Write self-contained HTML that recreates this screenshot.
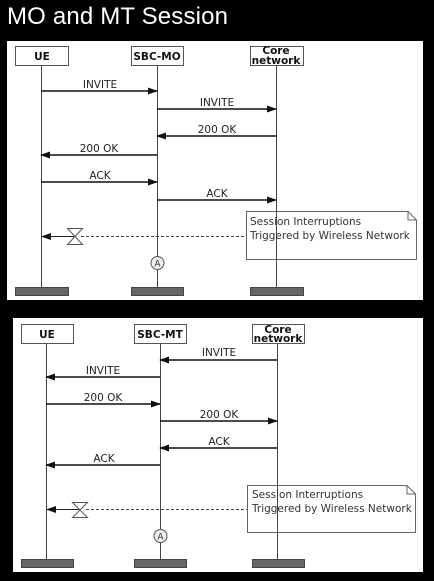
<!DOCTYPE html>
<html><head><style>
html,body{margin:0;padding:0;background:#000;width:434px;height:581px;overflow:hidden}
svg{display:block}
text{font-family:"DejaVu Sans","Liberation Sans",sans-serif}
</style></head><body>
<svg width="434" height="581" viewBox="0 0 434 581" xmlns="http://www.w3.org/2000/svg">
<defs>
<marker id="ah" markerWidth="10" markerHeight="8" refX="9" refY="3.5" orient="auto" markerUnits="userSpaceOnUse">
<path d="M0,0 L10,3.5 L0,7 z" fill="#111"/>
</marker>
</defs>
<text x="7" y="24" fill="#fff" font-size="24" textLength="221" style="font-family:'Liberation Sans',sans-serif">MO and MT Session</text>

<!-- Panel 1 -->
<rect x="7" y="41" width="416" height="259" fill="#fff"/>
<g stroke="#555" stroke-width="1" fill="#fff">
<rect x="15.5" y="46.5" width="53" height="19"/>
<rect x="131.5" y="46.5" width="52" height="19"/>
<rect x="250.5" y="46.5" width="53" height="19"/>
</g>
<g font-size="10.5" font-weight="bold" text-anchor="middle" fill="#111">
<text x="42" y="60">UE</text>
<text x="157" y="60">SBC-MO</text>
<text x="276" y="54">Core</text>
<text x="276" y="64">network</text>
</g>
<g stroke="#444" stroke-width="1">
<line x1="41.5" y1="66" x2="41.5" y2="288"/>
<line x1="157.5" y1="66" x2="157.5" y2="288"/>
<line x1="276.5" y1="66" x2="276.5" y2="288"/>
</g>
<path d="M246.5,211.5 H408 L416.5,220 V259.5 H246.5 Z M408,211.5 V220 H416.5" fill="#fff" stroke="#666"/>
<line x1="276.5" y1="211" x2="276.5" y2="260" stroke="#444"/>
<g fill="#666" stroke="#444">
<rect x="15.5" y="287.5" width="53" height="8"/>
<rect x="131.5" y="287.5" width="52" height="8"/>
<rect x="250.5" y="287.5" width="53" height="8"/>
</g>
<g stroke="#111" stroke-width="1.5" marker-end="url(#ah)">
<line x1="41" y1="91" x2="157" y2="91"/>
<line x1="157" y1="109" x2="276" y2="109"/>
<line x1="276" y1="136" x2="157" y2="136"/>
<line x1="157" y1="155" x2="41" y2="155"/>
<line x1="41" y1="182" x2="157" y2="182"/>
<line x1="157" y1="200" x2="276" y2="200"/>
</g>
<g font-size="10.5" text-anchor="middle" fill="#222">
<text x="100" y="88">INVITE</text>
<text x="217" y="106">INVITE</text>
<text x="217" y="133">200 OK</text>
<text x="99" y="152">200 OK</text>
<text x="100" y="179">ACK</text>
<text x="217" y="197">ACK</text>
</g>
<line x1="81" y1="236.5" x2="246" y2="236.5" stroke="#444" stroke-dasharray="3,2"/>
<line x1="74" y1="236.5" x2="42" y2="236.5" stroke="#222" stroke-width="1" marker-end="url(#ah)"/>
<path d="M67.5,228.5 H82.5 L67.5,244.5 H82.5 Z" fill="#fff" stroke="#555"/>
<g font-size="10.5" fill="#333">
<text x="250" y="225">Session Interruptions</text>
<text x="250" y="239">Triggered by Wireless Network</text>
</g>
<circle cx="157.5" cy="263" r="6.5" fill="#eee" stroke="#555"/>
<text x="157.5" y="266.5" font-size="9" text-anchor="middle" fill="#333">A</text>

<!-- Panel 2 -->
<rect x="13" y="318" width="410" height="254" fill="#fff"/>
<g stroke="#555" stroke-width="1" fill="#fff">
<rect x="21.5" y="324.5" width="52" height="19"/>
<rect x="134.5" y="324.5" width="52" height="19"/>
<rect x="252.5" y="324.5" width="52" height="19"/>
</g>
<g font-size="10.5" font-weight="bold" text-anchor="middle" fill="#111">
<text x="47" y="338">UE</text>
<text x="160" y="338">SBC-MT</text>
<text x="278" y="333">Core</text>
<text x="278" y="342">network</text>
</g>
<g stroke="#444" stroke-width="1">
<line x1="46.5" y1="344" x2="46.5" y2="560"/>
<line x1="160.5" y1="344" x2="160.5" y2="560"/>
<line x1="277.5" y1="344" x2="277.5" y2="560"/>
</g>
<path d="M247.5,485.5 H407 L415.5,494 V532.5 H247.5 Z M407,485.5 V494 H415.5" fill="#fff" stroke="#666"/>
<line x1="277.5" y1="485" x2="277.5" y2="533" stroke="#444"/>
<g fill="#666" stroke="#444">
<rect x="21.5" y="559.5" width="52" height="8"/>
<rect x="134.5" y="559.5" width="52" height="8"/>
<rect x="252.5" y="559.5" width="52" height="8"/>
</g>
<g stroke="#111" stroke-width="1.5" marker-end="url(#ah)">
<line x1="277" y1="360" x2="160" y2="360"/>
<line x1="160" y1="377" x2="46" y2="377"/>
<line x1="46" y1="404" x2="160" y2="404"/>
<line x1="160" y1="421" x2="277" y2="421"/>
<line x1="277" y1="448" x2="160" y2="448"/>
<line x1="160" y1="465" x2="46" y2="465"/>
</g>
<g font-size="10.5" text-anchor="middle" fill="#222">
<text x="219" y="356">INVITE</text>
<text x="103" y="374">INVITE</text>
<text x="103" y="401">200 OK</text>
<text x="219" y="418">200 OK</text>
<text x="219" y="445">ACK</text>
<text x="104" y="462">ACK</text>
</g>
<line x1="86" y1="509.5" x2="247" y2="509.5" stroke="#444" stroke-dasharray="3,2"/>
<line x1="79" y1="509.5" x2="47" y2="509.5" stroke="#222" stroke-width="1" marker-end="url(#ah)"/>
<path d="M72.5,502.5 H87.5 L72.5,517.5 H87.5 Z" fill="#fff" stroke="#555"/>
<g font-size="10.5" fill="#333">
<text x="252" y="498">Session Interruptions</text>
<text x="252" y="512">Triggered by Wireless Network</text>
</g>
<circle cx="160.5" cy="536" r="6.5" fill="#eee" stroke="#555"/>
<text x="160.5" y="539.5" font-size="9" text-anchor="middle" fill="#333">A</text>
</svg>
</body></html>
